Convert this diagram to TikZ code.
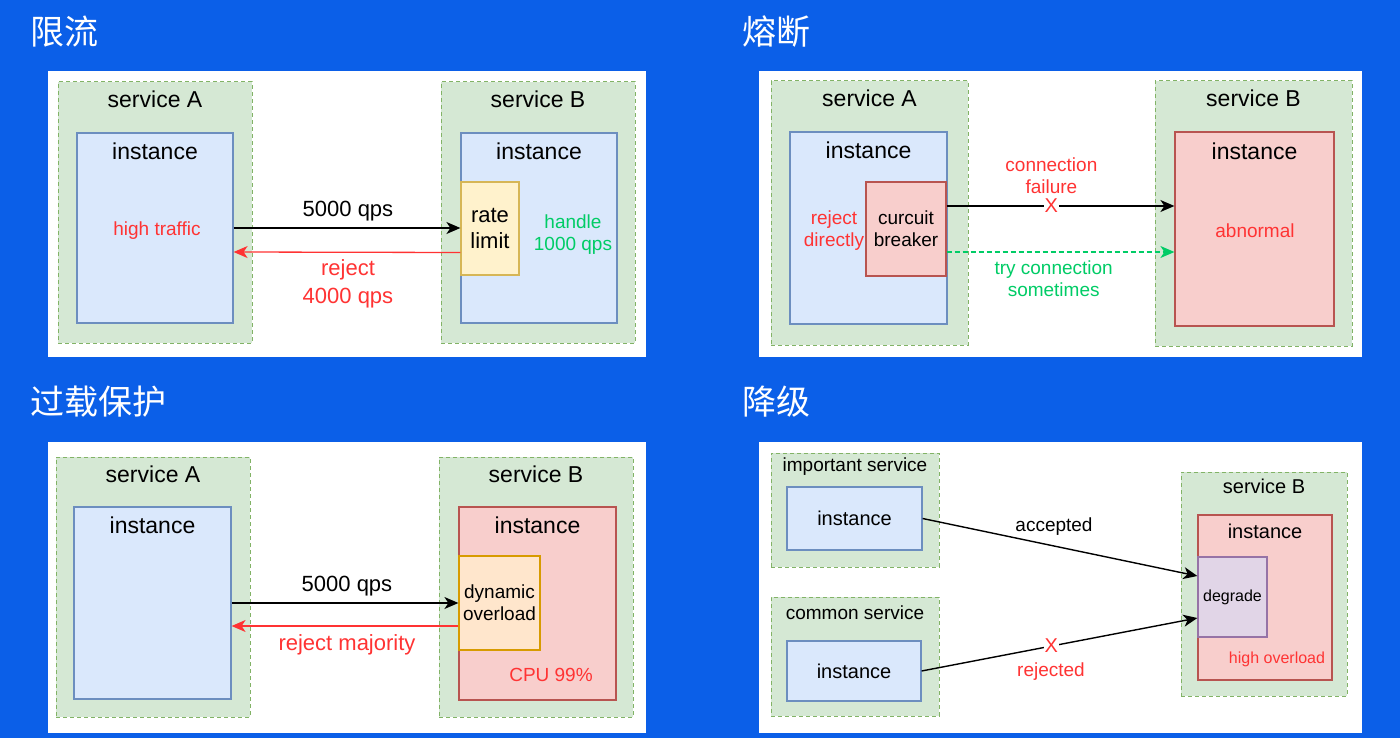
\documentclass[tikz,border=0pt]{standalone}
\usepackage{fontspec}
\setmainfont{Liberation Sans}
\newfontfamily\cjkfont{Noto Sans CJK SC}
\usetikzlibrary{arrows.meta,positioning,calc}

\definecolor{bgblue}{RGB}{11,95,232}
\definecolor{grpfill}{HTML}{D5E8D4}
\definecolor{grpline}{HTML}{82B366}
\definecolor{instfill}{HTML}{DAE8FC}
\definecolor{instline}{HTML}{6C8EBF}
\definecolor{badfill}{HTML}{F8CECC}
\definecolor{badline}{HTML}{B85450}
\definecolor{yelfill}{HTML}{FFF2CC}
\definecolor{yelline}{HTML}{D6B656}
\definecolor{orfill}{HTML}{FFE6CC}
\definecolor{orline}{HTML}{D79B00}
\definecolor{purfill}{HTML}{E1D5E7}
\definecolor{purline}{HTML}{9673A6}
\definecolor{redtxt}{HTML}{FF3333}
\definecolor{greentxt}{HTML}{00CC66}

\begin{document}
\begin{tikzpicture}[x=1pt, y=-1pt,
    panel/.style={fill=white, draw=none, inner sep=0pt},
    grp/.style={draw=grpline, fill=grpfill, dash pattern=on 4pt off 3pt, line width=1pt, inner sep=0pt},
    inst/.style={draw=instline, fill=instfill, line width=1.2pt, inner sep=0pt},
    bad/.style={draw=badline, fill=badfill, line width=1.2pt, inner sep=0pt},
    yel/.style={draw=yelline, fill=yelfill, line width=1.2pt, inner sep=0pt, align=center, font=\fontsize{22}{26}\selectfont},
    orb/.style={draw=orline, fill=orfill, line width=1.2pt, inner sep=0pt, align=center, font=\fontsize{19}{22}\selectfont},
    pur/.style={draw=purline, fill=purfill, line width=1.2pt, inner sep=0pt, font=\fontsize{16}{19}\selectfont},
    ttl/.style={text=white, anchor=west, inner sep=0pt, font=\cjkfont\fontsize{34}{38}\selectfont},
    hd/.style={inner sep=0pt, font=\fontsize{23}{27}\selectfont},
    hdsm/.style={inner sep=0pt, font=\fontsize{20}{24}\selectfont},
    sm/.style={inner sep=0pt, align=center, font=\fontsize{19}{22}\selectfont},
    tiny/.style={inner sep=0pt, align=center, font=\fontsize{16}{19}\selectfont},
    big/.style={inner sep=0pt, align=center, font=\fontsize{22}{28}\selectfont},
    arr/.style={-{Stealth[length=14pt, width=12pt, inset=4pt]}, line width=1.5pt},
    rarr/.style={arr, draw=redtxt, line width=1.3pt},
    garr/.style={-{Stealth[length=14pt, width=12pt, inset=4pt]}, draw=greentxt, line width=1.3pt, dash pattern=on 5pt off 3pt},
    xmark/.style={fill=white, inner sep=1pt, text=redtxt, font=\fontsize{20}{22}\selectfont}
]
\useasboundingbox (0,0) rectangle (1400,738);
\fill[bgblue] (0,0) rectangle (1400,738);

% ---- 限流 ----
\node[ttl] (t1) at (30,32) {限流};
\node[panel, minimum width=598, minimum height=286] (p1) at (347,214) {};
\node[grp, minimum width=194, minimum height=261] (g1a) at (155,212.5) {};
\node[hd] (g1at) at ([yshift=-18pt]g1a.north) {service A};
\node[inst, minimum width=156, minimum height=190] (i1a) at (155,228) {};
\node[hd] (i1at) at ([yshift=-19pt]i1a.north) {instance};
\node[sm, text=redtxt] (ht1) at (157,231) {high traffic};
\node[grp, minimum width=194, minimum height=261] (g1b) at (538,212.5) {};
\node[hd] (g1bt) at ([yshift=-18pt]g1b.north) {service B};
\node[inst, minimum width=156, minimum height=190] (i1b) at (539,228) {};
\node[hd] (i1bt) at ([yshift=-19pt]i1b.north) {instance};
\node[yel, minimum width=58, minimum height=93] (rl1) at (490,228.5) {rate\\limit};
\node[sm, text=greentxt] (hd1) at (573,235) {handle\\1000 qps};
\draw[arr] (i1a.east) -- (i1a.east -| rl1.west);
\draw[rarr] ([yshift=-24pt]rl1.west) -- ([yshift=-24pt]i1a.east);
\node[big] (q1) at (348,211) {5000 qps};
\node[big, text=redtxt] (rj1) at (348,284) {reject\\4000 qps};

% ---- 熔断 ----
\node[ttl] (t2) at (742,32) {熔断};
\node[panel, minimum width=603, minimum height=286] (p2) at (1060.5,214) {};
\node[grp, minimum width=197, minimum height=264] (g2a) at (869.5,213) {};
\node[hd] (g2at) at ([yshift=-18pt]g2a.north) {service A};
\node[inst, minimum width=157, minimum height=192] (i2a) at (868.5,228) {};
\node[hd] (i2at) at ([yshift=-19pt]i2a.north) {instance};
\node[bad, sm, minimum width=80, minimum height=94] (cb2) at (906,229) {curcuit\\breaker};
\node[sm, text=redtxt] (rd2) at (834,231) {reject\\directly};
\node[grp, minimum width=197, minimum height=265] (g2b) at (1253.5,213.5) {};
\node[hd] (g2bt) at ([yshift=-18pt]g2b.north) {service B};
\node[bad, minimum width=159, minimum height=194] (i2b) at (1254.5,229) {};
\node[hd] (i2bt) at ([yshift=-20pt]i2b.north) {instance};
\node[sm, text=redtxt] (ab2) at (1255,231) {abnormal};
\coordinate (cf2) at ([yshift=23pt]cb2.east);
\coordinate (ct2) at ([yshift=-23pt]cb2.east);
\draw[arr] (cf2) -- (cf2 -| i2b.west)
    node[pos=.46, xmark] (x2) {X}
    node[pos=.46, above=12pt, sm, text=redtxt] (cfl2) {connection\\failure};
\draw[garr] (ct2) -- (ct2 -| i2b.west)
    node[pos=.47, below=8pt, sm, text=greentxt] (tc2) {try connection\\sometimes};

% ---- 过载保护 ----
\node[ttl] (t3) at (30,402) {过载保护};
\node[panel, minimum width=598, minimum height=291] (p3) at (347,587.5) {};
\node[grp, minimum width=194, minimum height=260] (g3a) at (153,587) {};
\node[hd] (g3at) at ([yshift=-18pt]g3a.north) {service A};
\node[inst, minimum width=157, minimum height=192] (i3a) at (152.5,603) {};
\node[hd] (i3at) at ([yshift=-19pt]i3a.north) {instance};
\node[grp, minimum width=194, minimum height=260] (g3b) at (536,587) {};
\node[hd] (g3bt) at ([yshift=-18pt]g3b.north) {service B};
\node[bad, minimum width=157, minimum height=193] (i3b) at (537.5,603.5) {};
\node[hd] (i3bt) at ([yshift=-19pt]i3b.north) {instance};
\node[orb, minimum width=81, minimum height=94] (do3) at (499.5,603) {dynamic\\overload};
\node[sm, text=redtxt] (cpu3) at (551,675) {CPU 99\%};
\draw[arr] (i3a.east) -- (i3a.east -| do3.west);
\draw[rarr] ([yshift=-23pt]do3.west) -- ([yshift=-23pt]i3a.east);
\node[big] (q3) at (347,586) {5000 qps};
\node[big, text=redtxt] (rm3) at (347,645) {reject majority};

% ---- 降级 ----
\node[ttl] (t4) at (742,402) {降级};
\node[panel, minimum width=603, minimum height=291] (p4) at (1060.5,587.5) {};
\node[grp, minimum width=168, minimum height=114] (g4i) at (855,510) {};
\node[sm] (g4it) at ([yshift=-14pt]g4i.north) {important service};
\node[inst, minimum width=135, minimum height=63] (i4i) at (854.5,518.5) {};
\node[hdsm] (i4it) at (i4i) {instance};
\node[grp, minimum width=168, minimum height=119] (g4c) at (855,656.5) {};
\node[sm] (g4ct) at ([yshift=-16pt]g4c.north) {common service};
\node[inst, minimum width=134, minimum height=60] (i4c) at (854,671) {};
\node[hdsm] (i4ct) at (i4c) {instance};
\node[grp, minimum width=166, minimum height=224] (g4b) at (1264,584) {};
\node[hdsm] (g4bt) at ([yshift=-15pt]g4b.north) {service B};
\node[bad, minimum width=134, minimum height=165] (i4b) at (1265,597.5) {};
\node[hdsm] (i4bt) at ([yshift=-17pt]i4b.north) {instance};
\node[pur, minimum width=69, minimum height=80] (dg4) at (1232.5,597) {degrade};
\node[tiny, text=redtxt] (ho4) at (1277,659) {high overload};
\draw[arr, line width=1.4pt] (i4i.east) -- ([yshift=21pt]dg4.west);
\draw[arr, line width=1.4pt] (i4c.east) -- ([yshift=-21pt]dg4.west)
    node[pos=.47, xmark] (x4) {X};
\node[sm] (ac4) at (1054,527) {accepted};
\node[sm, text=redtxt] (rj4) at (1051,672) {rejected};
\end{tikzpicture}
\end{document}
